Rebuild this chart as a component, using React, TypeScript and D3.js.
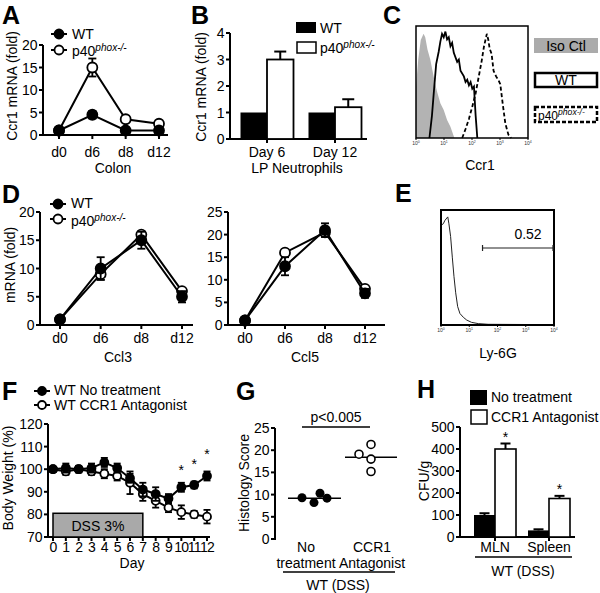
import React from "react";
import * as d3 from "d3";

const FONT = "'Liberation Sans', Arial, Helvetica, sans-serif";

// ---------- Panel A ----------
const aDays = ["d0", "d6", "d8", "d12"];
const aWT = [1, 4.5, 1, 1];
const aWTErr = [0.2, 0.8, 0.3, 0.3];
const aKO = [1, 15, 3.5, 2.5];
const aKOErr = [0.2, 2, 0.5, 0.4];
const aTicks = [0, 5, 10, 15, 20];

// ---------- Panel B ----------
const bGroups = ["Day 6", "Day 12"];
const bWT = [1, 1];
const bKO = [3.0, 1.2];
const bKOErr = [0.3, 0.3];
const bTicks = [0, 1, 2, 3, 4];

// ---------- Panel C (flow histograms: log10 position, fraction of box height) ----------
const cIso: [number, number][] = [
  [0, 0.46], [0.08, 0.7], [0.17, 0.875], [0.27, 0.93], [0.33, 0.9], [0.41, 0.79], [0.51, 0.7],
  [0.63, 0.55], [0.75, 0.415], [0.87, 0.31], [0.99, 0.25], [1.11, 0.16], [1.23, 0.1], [1.33, 0.03], [1.37, 0],
];
const cWT: [number, number][] = [
  [0.48, 0], [0.57, 0.2], [0.65, 0.45], [0.72, 0.66], [0.81, 0.77], [0.87, 0.86], [0.93, 0.93],
  [0.99, 0.9], [1.05, 0.95], [1.11, 0.88], [1.17, 0.9], [1.23, 0.82], [1.29, 0.85], [1.35, 0.76],
  [1.47, 0.68], [1.53, 0.7], [1.59, 0.6], [1.71, 0.55], [1.77, 0.5], [1.83, 0.52], [1.89, 0.47],
  [1.95, 0.5], [2.01, 0.44], [2.07, 0.46], [2.13, 0.2], [2.19, 0],
];
const cKO: [number, number][] = [
  [1.65, 0], [1.77, 0.08], [1.89, 0.17], [2.01, 0.28], [2.13, 0.4], [2.25, 0.56], [2.34, 0.68],
  [2.43, 0.82], [2.53, 0.93], [2.58, 0.88], [2.63, 0.8], [2.7, 0.75], [2.77, 0.6], [2.86, 0.55],
  [2.94, 0.52], [3.01, 0.48], [3.1, 0.3], [3.19, 0.13], [3.3, 0.03], [3.4, 0],
];
const logTicks = [0, 1, 2, 3, 4];

// ---------- Panel D ----------
const dDays = ["d0", "d6", "d8", "d12"];
const dCcl3WT = [1, 10, 15, 5];
const dCcl3WTErr = [0.2, 2, 1.5, 1];
const dCcl3KO = [1, 9, 16, 6];
const dCcl3KOErr = [0.2, 1, 0.5, 0.5];
const dCcl5WT = [1, 13, 21, 7];
const dCcl5WTErr = [0.2, 2, 1.5, 1];
const dCcl5KO = [1, 16, 20.5, 8];
const dCcl5KOErr = [0.2, 0.5, 1, 0.5];
const dCcl3Ticks = [0, 5, 10, 15, 20];
const dCcl5Ticks = [0, 5, 10, 15, 20, 25];

// ---------- Panel E ----------
const eHist: [number, number][] = [
  [0.02, 0.87], [0.08, 0.88], [0.14, 0.91], [0.24, 0.94], [0.28, 0.88], [0.34, 0.77], [0.4, 0.59],
  [0.46, 0.42], [0.52, 0.28], [0.59, 0.16], [0.67, 0.1], [0.79, 0.067], [0.91, 0.043], [1.08, 0.023],
  [1.32, 0.012], [1.67, 0.006], [4.0, 0.003],
];
const eGate = [1.47, 4.0];
const eGateLabel = "0.52";

// ---------- Panel F ----------
const fDays = [0, 1, 2, 3, 4, 5, 6, 7, 8, 9, 10, 11, 12];
const fNT = [100, 100.5, 100, 100.5, 103, 100.5, 96, 91, 89, 87, 92, 93, 97];
const fNTErr = [1, 2, 1.5, 2, 2, 2, 2, 3, 3, 2, 2, 1.5, 2];
const fAnt = [100, 99, 100, 99, 98, 97, 94, 89, 86, 83, 81, 80, 79];
const fAntErr = [1, 1.5, 1, 1.5, 2, 2, 5, 3, 3, 2, 3, 1.5, 3];
const fStarDays = [10, 11, 12];
const fStarVals = [101, 103.5, 108];
const fTicks = [70, 80, 90, 100, 110, 120];
const fDSS = [0, 7, 80.5];

// ---------- Panel G ----------
const gGroups = ["nt", "ant"];
const gNT = [9.3, 8.2, 10.3, 9.2];
const gAnt = [19.1, 21.3, 18.0, 15.2];
const gMedians = [9.2, 18.4];
const gTicks = [0, 5, 10, 15, 20, 25];

// ---------- Panel H ----------
const hGroups = ["MLN", "Spleen"];
const hNT = [100, 30];
const hNTErr = [8, 5];
const hAnt = [400, 175];
const hAntErr = [25, 12];
const hTicks = [0, 100, 200, 300, 400, 500];

const SW = 2;

function YAxis({ x, y, ticks, fs = 14, len = 4 }: any) {
  const [r0, r1] = y.range();
  return (
    <g>
      <line x1={x} x2={x} y1={r0 + 1} y2={r1} stroke="black" strokeWidth={SW} />
      {ticks.map((t: number) => (
        <g key={t}>
          <line x1={x - len} x2={x} y1={y(t)} y2={y(t)} stroke="black" strokeWidth={SW} />
          <text x={x - len - 1.5} y={y(t)} textAnchor="end" dominantBaseline="central" fontSize={fs}>
            {t}
          </text>
        </g>
      ))}
    </g>
  );
}

function ErrBar({ cx, y0, y1, cap = 4, sw = 1.8 }: any) {
  return (
    <g stroke="black" strokeWidth={sw}>
      <line x1={cx} x2={cx} y1={y0} y2={y1} />
      <line x1={cx - cap} x2={cx + cap} y1={y1} y2={y1} />
      <line x1={cx - cap} x2={cx + cap} y1={y0} y2={y0} />
    </g>
  );
}

function P40({ x, y, fs = 14, anchor = "start" }: any) {
  return (
    <text x={x} y={y} fontSize={fs} textAnchor={anchor} dominantBaseline="central">
      p40
      <tspan dy={-4} fontSize={fs * 0.72} fontStyle="italic">
        phox-/-
      </tspan>
    </text>
  );
}

function LineSeries({ xs, vals, errs, x, y, filled, r = 5, cap = 4 }: any) {
  const line = d3
    .line<number>()
    .x((_, i) => x(xs[i]))
    .y((d) => y(d));
  return (
    <g>
      <path d={line(vals) || ""} fill="none" stroke="black" strokeWidth={SW} />
      {vals.map((v: number, i: number) => (
        <ErrBar key={"e" + i} cx={x(xs[i])} y0={y(v - errs[i])} y1={y(v + errs[i])} cap={cap} />
      ))}
      {vals.map((v: number, i: number) => (
        <circle
          key={"c" + i}
          cx={x(xs[i])}
          cy={y(v)}
          r={r}
          fill={filled ? "black" : "white"}
          stroke="black"
          strokeWidth={1.8}
        />
      ))}
    </g>
  );
}

function LegendMarker({ x, y, filled, r = 4.5 }: any) {
  return (
    <g>
      <line x1={x - 8} x2={x + 8} y1={y} y2={y} stroke="black" strokeWidth={SW} />
      <circle cx={x} cy={y} r={r} fill={filled ? "black" : "white"} stroke="black" strokeWidth={1.8} />
    </g>
  );
}

function LogTicks({ x, yb }: any) {
  return (
    <g>
      {logTicks.map((t) => (
        <g key={t}>
          <line x1={x(t)} x2={x(t)} y1={yb} y2={yb + 2} stroke="black" strokeWidth={1} />
          <text x={x(t)} y={yb + 7} fontSize={5} textAnchor="middle" fill="#333">
            10
            <tspan dy={-2} fontSize={3.5}>
              {t}
            </tspan>
          </text>
        </g>
      ))}
    </g>
  );
}

function PanelLabel({ x, y, t }: any) {
  return (
    <text x={x} y={y} fontSize={25} fontWeight="bold">
      {t}
    </text>
  );
}

export default function App() {
  // A
  const ax = d3.scalePoint<string>().domain(aDays).range([59, 159]);
  const ay = d3.scaleLinear().domain([0, 20]).range([135, 45]);
  // B
  const bx = d3.scalePoint<string>().domain(bGroups).range([267, 335]);
  const by = d3.scaleLinear().domain([0, 4]).range([139, 33]);
  const bw = 26.5;
  // C
  const cx = d3.scaleLinear().domain([0, 4]).range([416, 528]);
  const cy = d3.scaleLinear().domain([0, 1]).range([138, 26]);
  const cArea = d3
    .area<[number, number]>()
    .x((d) => cx(d[0]))
    .y0(cy(0))
    .y1((d) => cy(d[1]));
  const cLine = d3
    .line<[number, number]>()
    .x((d) => cx(d[0]))
    .y((d) => cy(d[1]));
  // D
  const d3x = d3.scalePoint<string>().domain(dDays).range([60, 182]);
  const d3y = d3.scaleLinear().domain([0, 20]).range([325, 212]);
  const d5x = d3.scalePoint<string>().domain(dDays).range([245, 365]);
  const d5y = d3.scaleLinear().domain([0, 25]).range([325, 212]);
  // E
  const ex = d3.scaleLinear().domain([0, 4]).range([441, 554]);
  const ey = d3.scaleLinear().domain([0, 1]).range([325, 210]);
  const eLine = d3
    .line<[number, number]>()
    .x((d) => ex(d[0]))
    .y((d) => ey(d[1]));
  // F
  const fx = d3.scaleLinear().domain([0, 12]).range([53, 207]);
  const fy = d3.scaleLinear().domain([70, 120]).range([537, 424]);
  // G
  const gx = d3.scalePoint<string>().domain(gGroups).range([315, 370]);
  const gy = d3.scaleLinear().domain([0, 25]).range([539, 428]);
  const gJitNT = [-13, -1, 5, 12];
  const gJitAnt = [-11, 1, 1, 1];
  // H
  const hx = d3.scalePoint<string>().domain(hGroups).range([495, 549]);
  const hy = d3.scaleLinear().domain([0, 500]).range([537, 427]);
  const hw = 21;

  return (
    <svg
      width={600}
      height={593}
      style={{ position: "absolute", left: 0, top: 0, background: "white" }}
      fontFamily={FONT}
    >
      <rect x={0} y={0} width={600} height={593} fill="white" />

      {/* ===== A ===== */}
      <PanelLabel x={2} y={24} t="A" />
      <YAxis x={43} y={ay} ticks={aTicks} />
      <line x1={42} x2={168} y1={135} y2={135} stroke="black" strokeWidth={SW} />
      {aDays.map((d) => (
        <g key={d}>
          <line x1={ax(d)} x2={ax(d)} y1={135} y2={139} stroke="black" strokeWidth={SW} />
          <text x={ax(d)} y={152} fontSize={14} textAnchor="middle" dominantBaseline="central">
            {d}
          </text>
        </g>
      ))}
      <text x={113} y={168} fontSize={14} textAnchor="middle" dominantBaseline="central">
        Colon
      </text>
      <text transform="translate(12,86) rotate(-90)" fontSize={14} textAnchor="middle" dominantBaseline="central">
        Ccr1 mRNA (fold)
      </text>
      <LineSeries xs={aDays} vals={aKO} errs={aKOErr} x={ax} y={ay} filled={false} />
      <LineSeries xs={aDays} vals={aWT} errs={aWTErr} x={ax} y={ay} filled={true} />
      <LegendMarker x={59} y={34} filled={true} />
      <text x={72} y={34} fontSize={14} dominantBaseline="central">WT</text>
      <LegendMarker x={59} y={50} filled={false} />
      <P40 x={72} y={51} />

      {/* ===== B ===== */}
      <PanelLabel x={191} y={24} t="B" />
      <YAxis x={230} y={by} ticks={bTicks} />
      <line x1={229} x2={367} y1={139} y2={139} stroke="black" strokeWidth={SW} />
      {bGroups.map((g, i) => {
        const c = bx(g)!;
        return (
          <g key={g}>
            <rect x={c - bw} y={by(bWT[i])} width={bw} height={by(0) - by(bWT[i])} fill="black" />
            <line x1={c + bw / 2} x2={c + bw / 2} y1={by(bKO[i])} y2={by(bKO[i] + bKOErr[i])} stroke="black" strokeWidth={SW} />
            <line x1={c + bw / 2 - 6} x2={c + bw / 2 + 6} y1={by(bKO[i] + bKOErr[i])} y2={by(bKO[i] + bKOErr[i])} stroke="black" strokeWidth={SW} />
            <rect x={c} y={by(bKO[i])} width={bw} height={by(0) - by(bKO[i])} fill="white" stroke="black" strokeWidth={1.8} />
            <line x1={c} x2={c} y1={139} y2={143} stroke="black" strokeWidth={SW} />
            <text x={c} y={152} fontSize={14} textAnchor="middle" dominantBaseline="central">
              {g}
            </text>
          </g>
        );
      })}
      <text x={297} y={168} fontSize={14} textAnchor="middle" dominantBaseline="central">
        LP Neutrophils
      </text>
      <text transform="translate(201,87) rotate(-90)" fontSize={14} textAnchor="middle" dominantBaseline="central">
        Ccr1 mRNA (fold)
      </text>
      <rect x={296} y={22} width={20} height={11} fill="black" />
      <text x={320} y={28} fontSize={14} dominantBaseline="central">WT</text>
      <rect x={297} y={42} width={19} height={11} fill="white" stroke="black" strokeWidth={1.5} />
      <P40 x={320} y={48} />

      {/* ===== C ===== */}
      <PanelLabel x={383} y={24} t="C" />
      <path d={cArea(cIso) || ""} fill="#b3b3b3" stroke="none" />
      <path d={cLine(cWT) || ""} fill="none" stroke="black" strokeWidth={1.8} />
      <path d={cLine(cKO) || ""} fill="none" stroke="black" strokeWidth={1.8} strokeDasharray="4,2.5" />
      <rect x={416} y={26} width={112} height={112} fill="none" stroke="black" strokeWidth={1.5} />
      <LogTicks x={cx} yb={138} />
      <text x={480} y={165} fontSize={14} textAnchor="middle" dominantBaseline="central">
        Ccr1
      </text>
      <rect x={534} y={38} width={64} height={15} fill="#ababab" />
      <text x={566} y={46} fontSize={14} textAnchor="middle" dominantBaseline="central">Iso Ctl</text>
      <rect x={535} y={73} width={62} height={14} fill="white" stroke="black" strokeWidth={2.5} />
      <text x={566} y={80} fontSize={14} textAnchor="middle" dominantBaseline="central">WT</text>
      <rect x={535} y={107} width={62} height={15} fill="white" stroke="black" strokeWidth={2.5} strokeDasharray="4,2" />
      <P40 x={538} y={116} fs={12} />

      {/* ===== D ===== */}
      <PanelLabel x={2} y={203} t="D" />
      <YAxis x={40} y={d3y} ticks={dCcl3Ticks} />
      <line x1={39} x2={193} y1={325} y2={325} stroke="black" strokeWidth={SW} />
      {dDays.map((d) => (
        <g key={"c3" + d}>
          <line x1={d3x(d)} x2={d3x(d)} y1={325} y2={329} stroke="black" strokeWidth={SW} />
          <text x={d3x(d)} y={338} fontSize={14} textAnchor="middle" dominantBaseline="central">{d}</text>
        </g>
      ))}
      <text x={118} y={357} fontSize={14} textAnchor="middle" dominantBaseline="central">Ccl3</text>
      <LineSeries xs={dDays} vals={dCcl3KO} errs={dCcl3KOErr} x={d3x} y={d3y} filled={false} />
      <LineSeries xs={dDays} vals={dCcl3WT} errs={dCcl3WTErr} x={d3x} y={d3y} filled={true} />
      <YAxis x={228} y={d5y} ticks={dCcl5Ticks} />
      <line x1={227} x2={385} y1={325} y2={325} stroke="black" strokeWidth={SW} />
      {dDays.map((d) => (
        <g key={"c5" + d}>
          <line x1={d5x(d)} x2={d5x(d)} y1={325} y2={329} stroke="black" strokeWidth={SW} />
          <text x={d5x(d)} y={338} fontSize={14} textAnchor="middle" dominantBaseline="central">{d}</text>
        </g>
      ))}
      <text x={305} y={357} fontSize={14} textAnchor="middle" dominantBaseline="central">Ccl5</text>
      <LineSeries xs={dDays} vals={dCcl5KO} errs={dCcl5KOErr} x={d5x} y={d5y} filled={false} />
      <LineSeries xs={dDays} vals={dCcl5WT} errs={dCcl5WTErr} x={d5x} y={d5y} filled={true} />
      <text transform="translate(10,265) rotate(-90)" fontSize={14} textAnchor="middle" dominantBaseline="central">
        mRNA (fold)
      </text>
      <LegendMarker x={58} y={204} filled={true} />
      <text x={71} y={203} fontSize={14} dominantBaseline="central">WT</text>
      <LegendMarker x={58} y={219} filled={false} />
      <P40 x={71} y={221} />

      {/* ===== E ===== */}
      <PanelLabel x={395} y={202} t="E" />
      <path d={eLine(eHist) || ""} fill="none" stroke="#222" strokeWidth={1} />
      <rect x={441} y={210} width={113} height={115} fill="none" stroke="black" strokeWidth={2} />
      <LogTicks x={ex} yb={325} />
      <g stroke="#222" strokeWidth={1.2}>
        <line x1={ex(eGate[0])} x2={ex(eGate[1])} y1={248} y2={248} />
        <line x1={ex(eGate[0])} x2={ex(eGate[0])} y1={245} y2={251} />
        <line x1={ex(eGate[1]) - 1} x2={ex(eGate[1]) - 1} y1={245} y2={251} />
      </g>
      <text x={528} y={234} fontSize={14} textAnchor="middle" dominantBaseline="central">{eGateLabel}</text>
      <text x={498} y={353} fontSize={14} textAnchor="middle" dominantBaseline="central">Ly-6G</text>

      {/* ===== F ===== */}
      <PanelLabel x={2} y={400} t="F" />
      <LegendMarker x={42} y={391} filled={true} r={4} />
      <text x={54} y={390} fontSize={14} dominantBaseline="central">WT No treatment</text>
      <LegendMarker x={42} y={405} filled={false} r={4} />
      <text x={54} y={405} fontSize={14} dominantBaseline="central">WT CCR1 Antagonist</text>
      <YAxis x={48} y={fy} ticks={fTicks} />
      <line x1={47} x2={210} y1={537} y2={537} stroke="black" strokeWidth={SW} />
      <rect
        x={fx(fDSS[0])}
        y={fy(fDSS[2])}
        width={fx(fDSS[1]) - fx(fDSS[0])}
        height={fy(70) - fy(fDSS[2])}
        fill="#a9a9a9"
        stroke="black"
        strokeWidth={1.5}
      />
      <text x={(fx(fDSS[0]) + fx(fDSS[1])) / 2} y={526} fontSize={14} textAnchor="middle" dominantBaseline="central">
        DSS 3%
      </text>
      {fDays.map((d) => (
        <g key={"fd" + d}>
          <line x1={fx(d)} x2={fx(d)} y1={537} y2={541} stroke="black" strokeWidth={SW} />
          <text x={fx(d)} y={547} fontSize={14} textAnchor="middle" dominantBaseline="central" letterSpacing={-0.8}>
            {d}
          </text>
        </g>
      ))}
      <text x={132} y={563} fontSize={14} textAnchor="middle" dominantBaseline="central">Day</text>
      <text transform="translate(8,478) rotate(-90)" fontSize={14} textAnchor="middle" dominantBaseline="central">
        Body Weight (%)
      </text>
      <LineSeries xs={fDays} vals={fAnt} errs={fAntErr} x={fx} y={fy} filled={false} r={4} cap={3.5} />
      <LineSeries xs={fDays} vals={fNT} errs={fNTErr} x={fx} y={fy} filled={true} r={4} cap={3.5} />
      {fStarDays.map((d, i) => (
        <text key={"st" + d} x={fx(d)} y={fy(fStarVals[i]) + 8} fontSize={14} textAnchor="middle">*</text>
      ))}

      {/* ===== G ===== */}
      <PanelLabel x={236} y={400} t="G" />
      <line x1={302} x2={370} y1={427} y2={427} stroke="black" strokeWidth={1.5} />
      <text x={336} y={417} fontSize={14} textAnchor="middle" dominantBaseline="central">p&lt;0.005</text>
      <YAxis x={275} y={gy} ticks={gTicks} />
      <line x1={gx("nt")! - 27} x2={gx("nt")! + 26} y1={gy(gMedians[0])} y2={gy(gMedians[0])} stroke="black" strokeWidth={1.5} />
      <line x1={gx("ant")! - 25} x2={gx("ant")! + 27} y1={gy(gMedians[1])} y2={gy(gMedians[1])} stroke="black" strokeWidth={1.5} />
      {gNT.map((v, i) => (
        <circle key={"gn" + i} cx={gx("nt")! + gJitNT[i]} cy={gy(v)} r={4.5} fill="black" />
      ))}
      {gAnt.map((v, i) => (
        <circle key={"ga" + i} cx={gx("ant")! + gJitAnt[i]} cy={gy(v)} r={4} fill="white" stroke="black" strokeWidth={1.6} />
      ))}
      <text x={306} y={547} fontSize={14} textAnchor="middle" dominantBaseline="central">No</text>
      <text x={306} y={563} fontSize={14} textAnchor="middle" dominantBaseline="central">treatment</text>
      <text x={372} y={547} fontSize={14} textAnchor="middle" dominantBaseline="central">CCR1</text>
      <text x={372} y={563} fontSize={14} textAnchor="middle" dominantBaseline="central">Antagonist</text>
      <line x1={283} x2={395} y1={572} y2={572} stroke="black" strokeWidth={1.5} />
      <text x={338} y={585} fontSize={14} textAnchor="middle" dominantBaseline="central">WT (DSS)</text>
      <text transform="translate(244,483) rotate(-90)" fontSize={14} textAnchor="middle" dominantBaseline="central">
        Histology Score
      </text>

      {/* ===== H ===== */}
      <PanelLabel x={417} y={398} t="H" />
      <rect x={470} y={390} width={17} height={15} fill="black" />
      <text x={491} y={397} fontSize={14} dominantBaseline="central">No treatment</text>
      <rect x={471} y={410} width={16} height={14} fill="white" stroke="black" strokeWidth={1.5} />
      <text x={491} y={417} fontSize={14} dominantBaseline="central">CCR1 Antagonist</text>
      <YAxis x={460} y={hy} ticks={hTicks} />
      <line x1={459} x2={575} y1={537} y2={537} stroke="black" strokeWidth={SW} />
      {hGroups.map((g, i) => {
        const c = hx(g)!;
        const ntTop = hy(hNT[i] + hNTErr[i]);
        const anTop = hy(hAnt[i] + hAntErr[i]);
        return (
          <g key={g}>
            <line x1={c - hw / 2} x2={c - hw / 2} y1={hy(hNT[i])} y2={ntTop} stroke="black" strokeWidth={SW} />
            <line x1={c - hw / 2 - 5} x2={c - hw / 2 + 5} y1={ntTop} y2={ntTop} stroke="black" strokeWidth={SW} />
            <rect x={c - hw} y={hy(hNT[i])} width={hw} height={hy(0) - hy(hNT[i])} fill="black" />
            <line x1={c + hw / 2} x2={c + hw / 2} y1={hy(hAnt[i])} y2={anTop} stroke="black" strokeWidth={SW} />
            <line x1={c + hw / 2 - 5} x2={c + hw / 2 + 5} y1={anTop} y2={anTop} stroke="black" strokeWidth={SW} />
            <rect x={c} y={hy(hAnt[i])} width={hw} height={hy(0) - hy(hAnt[i])} fill="white" stroke="black" strokeWidth={1.6} />
            <text x={c + hw / 2} y={anTop - 2} fontSize={14} textAnchor="middle">*</text>
            <line x1={c} x2={c} y1={537} y2={541} stroke="black" strokeWidth={SW} />
            <text x={c} y={547} fontSize={14} textAnchor="middle" dominantBaseline="central">{g}</text>
          </g>
        );
      })}
      <line x1={475} x2={572} y1={557} y2={557} stroke="black" strokeWidth={1.5} />
      <text x={523} y={571} fontSize={14} textAnchor="middle" dominantBaseline="central">WT (DSS)</text>
      <text transform="translate(424,481) rotate(-90)" fontSize={14} textAnchor="middle" dominantBaseline="central">
        CFU/g
      </text>
    </svg>
  );
}
